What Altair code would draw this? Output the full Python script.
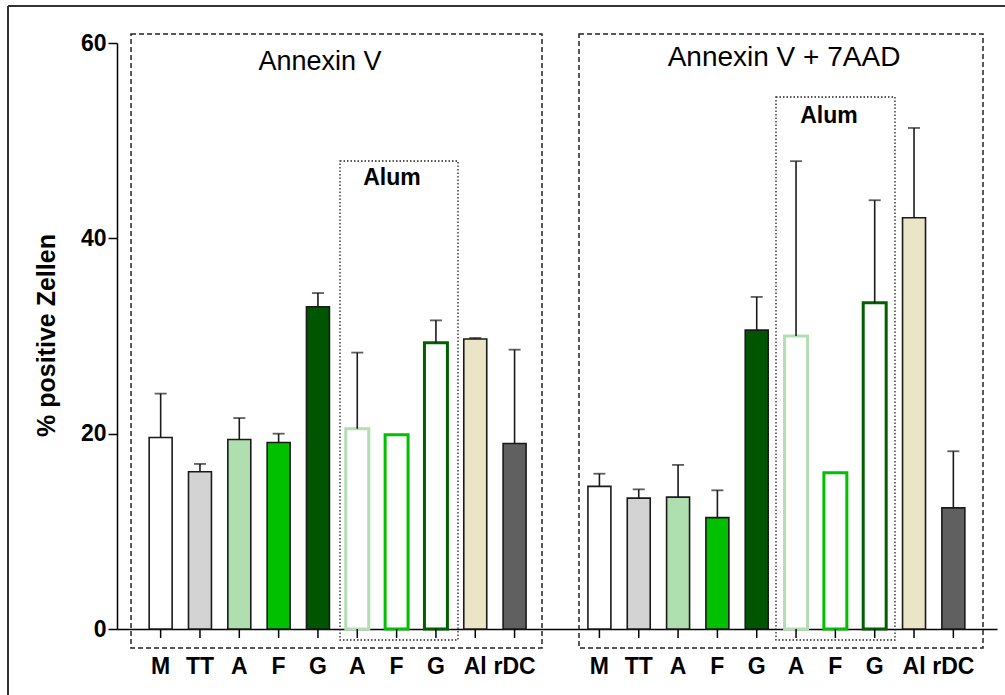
import altair as alt
import pandas as pd

# Panels and bar slots
groups = ["Annexin V", "Annexin V + 7AAD"]
slots = ["M", "TT", "A", "F", "G", "A Alum", "F Alum", "G Alum", "Al", "rDC"]
tick_labels = ["M", "TT", "A", "F", "G", "A", "F", "G", "Al", "rDC"]
alum_slots = ["A Alum", "F Alum", "G Alum"]

# Mean % positive cells and error (SD) per slot
annexin_mean = [19.6, 16.1, 19.4, 19.1, 33.0, 20.5, 19.9, 29.3, 29.7, 19.0]
annexin_err = [4.5, 0.8, 2.2, 0.9, 1.4, 7.8, 0.0, 2.3, 0.1, 9.6]
aad_mean = [14.6, 13.4, 13.5, 11.4, 30.6, 30.0, 16.0, 33.4, 42.1, 12.4]
aad_err = [1.3, 0.9, 3.3, 2.8, 3.4, 17.9, 0.0, 10.5, 9.2, 5.8]

rows = []
for g, means, errs in [(groups[0], annexin_mean, annexin_err), (groups[1], aad_mean, aad_err)]:
    for s, lab, m, e in zip(slots, tick_labels, means, errs):
        rows.append({"group": g, "slot": s, "label": lab, "value": m, "err": e, "upper": m + e})
df = pd.DataFrame(rows)

fill_range = ["#ffffff", "#d3d3d3", "#afdfae", "#00c000", "#005500",
              "#ffffff", "#ffffff", "#ffffff", "#ebe5c8", "#606060"]
stroke_range = ["#1a1a1a"] * 5 + ["#b2deb1", "#00c000", "#006000"] + ["#1a1a1a"] * 2

FONT = "Liberation Sans"
W, H = 880, 586

x_enc = alt.X("group:N", sort=groups,
              scale=alt.Scale(paddingInner=0.141, paddingOuter=0.0733),
              axis=alt.Axis(labels=False, ticks=False, title=None, domain=True,
                            domainColor="#000000", domainWidth=1.5, grid=False))
xoff_enc = alt.XOffset("slot:N", sort=slots,
                       scale=alt.Scale(domain=slots, paddingInner=0.416, paddingOuter=0))
y_scale = alt.Scale(domain=[0, 60], nice=False, zero=True)

# secondary layers share the bar scales
x_plain = alt.X("group:N", sort=groups)
xoff_plain = alt.XOffset("slot:N", sort=slots)

base = alt.Chart(df)

bars = base.mark_bar().encode(
    x=x_enc,
    xOffset=xoff_enc,
    y=alt.Y("value:Q", scale=y_scale,
            axis=alt.Axis(values=[0, 20, 40, 60], grid=False, title="% positive Zellen",
                          titleFont=FONT, titleFontSize=25, titleFontWeight="bold",
                          titleColor="#000000", titleAngle=270, titleX=-71, titleY=292,
                          titleAlign="center", titleBaseline="middle",
                          labelFont=FONT, labelFontSize=23, labelFontWeight="bold",
                          labelColor="#000000", labelPadding=2,
                          tickSize=9, tickWidth=1.5, tickColor="#000000",
                          domainColor="#000000", domainWidth=1.5)),
    fill=alt.Fill("slot:N", scale=alt.Scale(domain=slots, range=fill_range), legend=None),
    stroke=alt.Stroke("slot:N", scale=alt.Scale(domain=slots, range=stroke_range), legend=None),
    strokeWidth=alt.condition(alt.FieldOneOfPredicate(field="slot", oneOf=alum_slots),
                              alt.value(3), alt.value(1.6)),
)

err_base = base.transform_filter(alt.datum.err > 0)
err_lines = err_base.mark_rule(color="#1a1a1a", strokeWidth=1.6).encode(
    x=x_plain, xOffset=xoff_plain,
    y=alt.Y("value:Q", scale=y_scale), y2="upper:Q")
err_caps = err_base.mark_tick(color="#1a1a1a", thickness=1.8, size=12, orient="horizontal").encode(
    x=x_plain, xOffset=xoff_plain,
    y=alt.Y("upper:Q", scale=y_scale))

x_ticks = base.mark_rule(color="#000000", strokeWidth=1.5).encode(
    x=x_plain, xOffset=xoff_plain,
    y=alt.value(H), y2=alt.value(H + 9))
x_labels = base.mark_text(font=FONT, fontSize=23, fontWeight="bold", color="#000000",
                          baseline="middle", align="center").encode(
    x=x_plain, xOffset=xoff_plain,
    y=alt.value(H + 38), text="label:N")

one = alt.Data(values=[{"k": 0}])


def box(x0, x1, y0, y1, dash, width=1.5, color="#222222"):
    return alt.Chart(one).mark_rect(fill="transparent", stroke=color, strokeWidth=width,
                                    strokeDash=dash).encode(
        x=alt.value(x0), x2=alt.value(x1), y=alt.value(y0), y2=alt.value(y1))


def label(txt, x, y, size, weight="normal"):
    return alt.Chart(one).mark_text(text=txt, font=FONT, fontSize=size, fontWeight=weight,
                                    color="#000000", align="center",
                                    baseline="alphabetic").encode(
        x=alt.value(x), y=alt.value(y))


outer = box(-109, 900, -37, 700, [1, 0], width=2, color="#333333")
panel_left = box(14, 425, -9, 605, [5, 3])
panel_right = box(462, 866, -9, 605, [5, 3])
alum_left = box(223, 341, 118, 597, [1.5, 2], width=1.3)
alum_right = box(659, 778, 54, 597, [1.5, 2], width=1.3)

titles = [
    label("Annexin V", 203, 27, 27),
    label("Annexin V + 7AAD", 667, 23, 28),
    label("Alum", 275, 142, 23, "bold"),
    label("Alum", 712, 80, 23, "bold"),
]

chart = alt.layer(
    outer, panel_left, panel_right, alum_left, alum_right,
    bars, err_lines, err_caps, x_ticks, x_labels, *titles
).properties(
    width=W, height=H,
    padding={"left": 117, "top": 43, "right": 8, "bottom": 66},
    autosize="none",
    background="#ffffff",
).configure_view(
    strokeWidth=0
).configure_axis(
    grid=False
)

chart.save("out.html", embed_options={"renderer": "svg", "actions": False})
